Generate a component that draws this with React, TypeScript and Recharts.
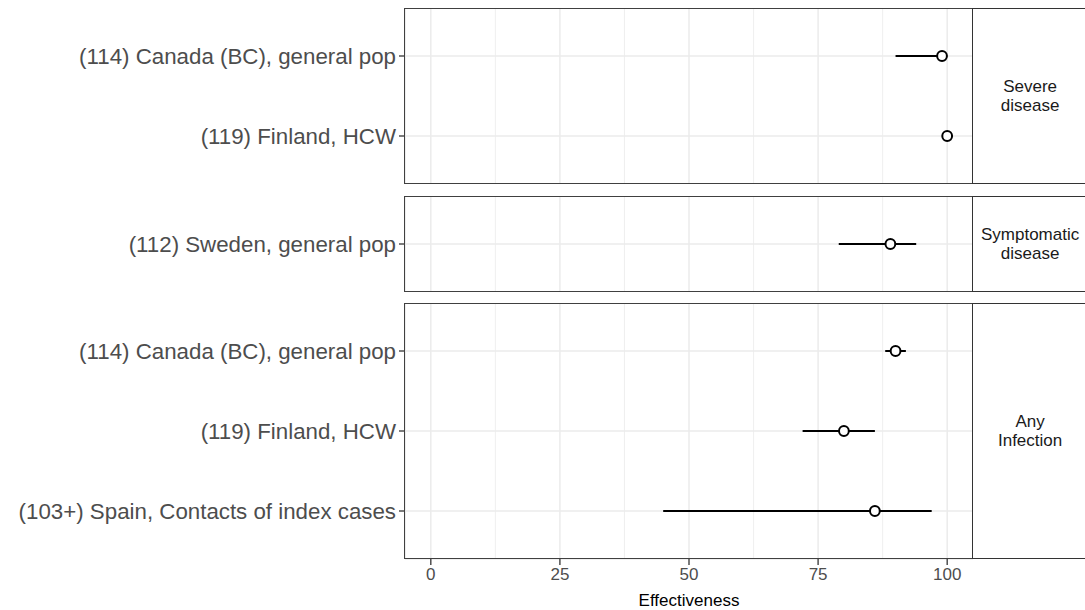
import React from "react";
import {
  ScatterChart,
  Scatter,
  XAxis,
  YAxis,
  CartesianGrid,
  ErrorBar,
} from "recharts";

// study labels, point estimates and CI bounds per facet (top to bottom)
const severeLabels = ["(114) Canada (BC), general pop", "(119) Finland, HCW"];
const severeEst = [99, 100];
const severeLow = [90, 100];
const severeHigh = [100, 100];

const symptLabels = ["(112) Sweden, general pop"];
const symptEst = [89];
const symptLow = [79];
const symptHigh = [94];

const anyLabels = [
  "(114) Canada (BC), general pop",
  "(119) Finland, HCW",
  "(103+) Spain, Contacts of index cases",
];
const anyEst = [90, 80, 86];
const anyLow = [88, 72, 45];
const anyHigh = [92, 86, 97];

const xTicks = [0, 25, 50, 75, 100];
const xMinorTicks = [12.5, 37.5, 62.5, 87.5];
const xDomain: [number, number] = [-5, 105];

const FONT = '"Liberation Sans", Arial, sans-serif';
const PLOT_LEFT = 405;
const PLOT_RIGHT = 973;

function makeRows(labels: string[], est: number[], low: number[], high: number[]) {
  return labels.map((label, i) => ({
    label,
    est: est[i],
    err: [est[i] - low[i], high[i] - est[i]],
  }));
}

const OpenDot = (p: any) => (
  <circle cx={p.cx} cy={p.cy} r={4.9} fill="#fff" stroke="#000" strokeWidth={2} />
);

interface PanelProps {
  rows: { label: string; est: number; err: number[] }[];
  top: number;
  height: number;
  strip: string[];
  showAxis?: boolean;
}

function Panel({ rows, top, height, strip, showAxis }: PanelProps) {
  const axisH = showAxis ? 51 : 0;
  return (
    <>
      <div style={{ position: "absolute", left: 0, top }}>
        <ScatterChart
          width={PLOT_RIGHT}
          height={height + axisH}
          margin={{ top: 0, right: 0, bottom: 0, left: 0 }}
        >
          <XAxis
            xAxisId="minor"
            type="number"
            dataKey="est"
            domain={xDomain}
            ticks={xMinorTicks}
            allowDataOverflow
            hide
          />
          <XAxis
            xAxisId="major"
            type="number"
            dataKey="est"
            domain={xDomain}
            ticks={xTicks}
            allowDataOverflow
            hide={!showAxis}
            height={axisH}
            axisLine={false}
            tickSize={6}
            tickMargin={3}
            tickLine={{ stroke: "#333333", strokeWidth: 1.3 }}
            tick={{ fontSize: 17, fill: "#4D4D4D", fontFamily: FONT }}
            label={
              showAxis
                ? {
                    value: "Effectiveness",
                    position: "insideBottom",
                    offset: 4,
                    fill: "#000",
                    fontSize: 17,
                    fontFamily: FONT,
                  }
                : undefined
            }
          />
          <YAxis
            type="category"
            dataKey="label"
            width={PLOT_LEFT}
            padding={{ top: 8, bottom: 8 }}
            axisLine={false}
            tickSize={6}
            tickMargin={3}
            tickLine={{ stroke: "#333333", strokeWidth: 1.3 }}
            tick={{ fontSize: 22.3, fill: "#4D4D4D", fontFamily: FONT }}
            reversed
          />
          <CartesianGrid
            xAxisId="minor"
            horizontal={false}
            stroke="#EBEBEB"
            strokeWidth={0.8}
          />
          <CartesianGrid xAxisId="major" stroke="#EBEBEB" strokeWidth={1.5} />
          <Scatter
            xAxisId="major"
            data={rows}
            dataKey="est"
            shape={OpenDot}
            isAnimationActive={false}
          >
            <ErrorBar
              dataKey="err"
              direction="x"
              width={0}
              stroke="#000"
              strokeWidth={2}
              isAnimationActive={false}
            />
          </Scatter>
        </ScatterChart>
      </div>
      {/* panel frame */}
      <div
        style={{
          position: "absolute",
          left: PLOT_LEFT - 1,
          top,
          width: PLOT_RIGHT - PLOT_LEFT + 1.4,
          height,
          boxSizing: "border-box",
          border: "1.4px solid #404040",
          pointerEvents: "none",
        }}
      />
      {/* facet strip */}
      <div
        style={{
          position: "absolute",
          left: PLOT_RIGHT - 0.9,
          top,
          width: 120,
          height,
          boxSizing: "border-box",
          border: "1.4px solid #333333",
          display: "flex",
          flexDirection: "column",
          justifyContent: "center",
          fontFamily: FONT,
          fontSize: 17,
          color: "#1A1A1A",
          lineHeight: "19px",
        }}
      >
        {strip.map((s) => (
          <div key={s} style={{ width: 114, textAlign: "center" }}>
            {s}
          </div>
        ))}
      </div>
    </>
  );
}

export default function App() {
  return (
    <div
      style={{
        position: "absolute",
        left: 0,
        top: 0,
        width: 1085,
        height: 610,
        background: "#fff",
        overflow: "hidden",
      }}
    >
      <Panel
        rows={makeRows(severeLabels, severeEst, severeLow, severeHigh)}
        top={8}
        height={176}
        strip={["Severe", "disease"]}
      />
      <Panel
        rows={makeRows(symptLabels, symptEst, symptLow, symptHigh)}
        top={196}
        height={96}
        strip={["Symptomatic", "disease"]}
      />
      <Panel
        rows={makeRows(anyLabels, anyEst, anyLow, anyHigh)}
        top={303}
        height={256}
        strip={["Any", "Infection"]}
        showAxis
      />
    </div>
  );
}
